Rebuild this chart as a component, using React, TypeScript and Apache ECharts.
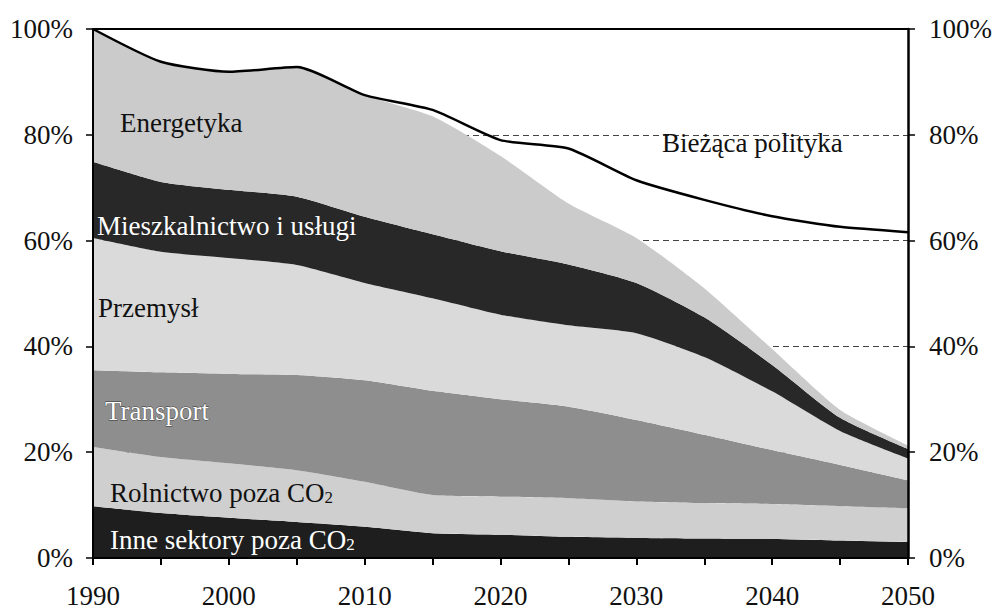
import React, { useEffect, useRef } from "react";
import * as echarts from "echarts";

const years = ["1990", "1995", "2000", "2005", "2010", "2015", "2020", "2025", "2030", "2035", "2040", "2045", "2050"];
const inne = [9.8, 8.5, 7.6, 6.8, 5.9, 4.7, 4.4, 4.0, 3.8, 3.7, 3.6, 3.3, 3.0];
const rolnictwo = [11.2, 10.6, 10.3, 9.8, 8.5, 7.2, 7.2, 7.3, 6.9, 6.7, 6.6, 6.5, 6.4];
const transport = [14.5, 16.0, 16.9, 18.0, 19.2, 19.7, 18.4, 17.3, 15.4, 12.9, 10.2, 7.8, 5.3];
const przemysl = [25.0, 22.8, 21.9, 20.8, 18.4, 17.5, 16.0, 15.4, 16.4, 14.7, 11.1, 6.4, 4.1];
const mieszkalnictwo = [14.4, 13.2, 12.9, 12.9, 12.5, 12.1, 12.0, 11.5, 9.5, 7.5, 5.0, 2.5, 1.8];
const energetyka = [25.1, 22.7, 22.3, 24.5, 23.0, 22.3, 18.0, 11.5, 8.5, 5.5, 3.0, 1.5, 0.7];
const biezacaPolityka = [100, 93.8, 91.9, 92.8, 87.5, 84.7, 79.0, 77.4, 71.4, 67.7, 64.6, 62.6, 61.6];
const yTicks = [0, 20, 40, 60, 80, 100];

const FONT = "'Liberation Serif', 'Times New Roman', serif";

export default function App() {
  const ref = useRef<HTMLDivElement>(null);
  useEffect(() => {
    document.body.style.margin = "0";
    const chart = echarts.init(ref.current!, undefined, { renderer: "svg" });
    const area = (name: string, data: number[], color: string) => ({
      name,
      type: "line",
      stack: "total",
      data,
      smooth: 0.2,
      symbol: "none",
      lineStyle: { width: 0 },
      areaStyle: { color, opacity: 1 },
      itemStyle: { color },
      z: 2,
    });
    const axisLabel = { fontFamily: FONT, fontSize: 27, color: "#111" };
    const yMax = yTicks[yTicks.length - 1];
    const yCommon = {
      type: "value",
      min: yTicks[0],
      max: yMax,
      interval: 20,
    };
    const txt = `27px ${FONT}`;
    chart.setOption({
      animation: false,
      backgroundColor: "#fff",
      grid: { left: 93, right: 86, top: 29, bottom: 52 },
      xAxis: [
        {
          type: "category",
          data: years,
          boundaryGap: false,
          z: 10,
          axisLine: { show: true, onZero: false, lineStyle: { color: "#000", width: 2 } },
          axisTick: { show: true, length: 7, interval: 0, lineStyle: { color: "#000", width: 2 } },
          axisLabel: { ...axisLabel, margin: 24, interval: 1 },
          splitLine: { show: false },
        },
      ],
      yAxis: [
        {
          ...yCommon,
          position: "left",
          z: 10,
          axisLine: { show: true, onZero: false, lineStyle: { color: "#000", width: 2 } },
          axisTick: { show: true, length: 7, lineStyle: { color: "#000", width: 1.5 } },
          axisLabel: { ...axisLabel, margin: 20, formatter: "{value}%" },
          splitLine: { show: false },
        },
        {
          ...yCommon,
          position: "right",
          z: 10,
          axisLine: { show: true, onZero: false, lineStyle: { color: "#000", width: 2.5 } },
          axisTick: { show: true, length: 7, lineStyle: { color: "#000", width: 1.5 } },
          axisLabel: { ...axisLabel, margin: 21, formatter: "{value}%" },
          splitLine: { show: false },
        },
        {
          ...yCommon,
          position: "left",
          z: 0,
          axisLine: { show: false },
          axisTick: { show: false },
          axisLabel: { show: false },
          splitLine: {
            show: true,
            lineStyle: { color: "#444", width: 1.2, type: [6, 4] },
          },
        },
      ],
      series: [
        area("Inne sektory poza CO2", inne, "#1e1e1e"),
        area("Rolnictwo poza CO2", rolnictwo, "#cfcfcf"),
        area("Transport", transport, "#8e8e8e"),
        area("Przemysł", przemysl, "#dadada"),
        area("Mieszkalnictwo i usługi", mieszkalnictwo, "#282828"),
        area("Energetyka", energetyka, "#cbcbcb"),
        {
          name: "Bieżąca polityka",
          type: "line",
          data: biezacaPolityka,
          smooth: 0.2,
          symbol: "none",
          clip: false,
          lineStyle: { color: "#000", width: 2.5 },
          z: 5,
        },
        {
          name: "frame",
          type: "line",
          data: years.map(() => yMax),
          symbol: "none",
          clip: false,
          silent: true,
          lineStyle: { color: "#000", width: 2 },
          z: 6,
        },
      ],
      graphic: [
        { type: "text", x: 120, y: 123, z: 20, style: { text: "Energetyka", fill: "#111", font: txt, verticalAlign: "middle" } },
        { type: "text", x: 97, y: 226, z: 20, style: { text: "Mieszkalnictwo i usługi", fill: "#fff", stroke: "#222", lineWidth: 0.8, font: txt, verticalAlign: "middle" } },
        { type: "text", x: 98, y: 308, z: 20, style: { text: "Przemysł", fill: "#111", font: txt, verticalAlign: "middle" } },
        { type: "text", x: 105, y: 411, z: 20, style: { text: "Transport", fill: "#fff", stroke: "#333", lineWidth: 0.8, font: txt, verticalAlign: "middle" } },
        {
          type: "text", x: 110, y: 491, z: 20,
          style: {
            text: "{a|Rolnictwo poza CO}{s|2}",
            verticalAlign: "middle",
            rich: {
              a: { fill: "#111", fontFamily: FONT, fontSize: 27, lineHeight: 30, verticalAlign: "bottom" },
              s: { fill: "#111", fontFamily: FONT, fontSize: 17, lineHeight: 30, verticalAlign: "bottom" },
            },
          },
        },
        {
          type: "text", x: 110, y: 538, z: 20,
          style: {
            text: "{a|Inne sektory poza CO}{s|2}",
            verticalAlign: "middle",
            rich: {
              a: { fill: "#fff", stroke: "#222", lineWidth: 0.8, fontFamily: FONT, fontSize: 27, lineHeight: 30, verticalAlign: "bottom" },
              s: { fill: "#fff", stroke: "#222", lineWidth: 0.8, fontFamily: FONT, fontSize: 17, lineHeight: 30, verticalAlign: "bottom" },
            },
          },
        },
        { type: "text", x: 662, y: 143, z: 20, style: { text: "Bieżąca polityka", fill: "#111", font: txt, verticalAlign: "middle" } },
      ],
    });
    return () => chart.dispose();
  }, []);
  return <div ref={ref} style={{ width: 995, height: 610 }} />;
}
